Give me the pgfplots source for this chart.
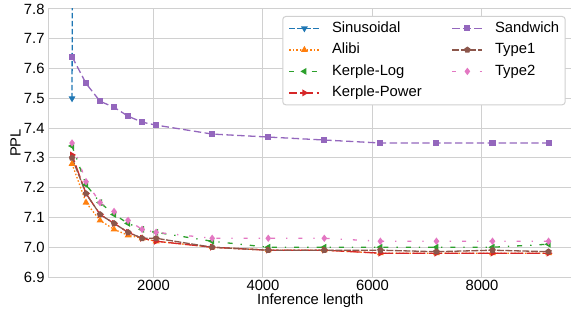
\documentclass[border=0pt]{standalone}
\usepackage{fontspec}
\setmainfont{Liberation Sans}
\usepackage{pgfplots}
\pgfplotsset{compat=1.18}
\usetikzlibrary{plotmarks}
\definecolor{cSin}{HTML}{1F77B4}
\definecolor{cAli}{HTML}{FF7F0E}
\definecolor{cLog}{HTML}{2CA02C}
\definecolor{cPow}{HTML}{D62728}
\definecolor{cSan}{HTML}{9467BD}
\definecolor{cT1}{HTML}{8C564B}
\definecolor{cT2}{HTML}{E377C2}
\definecolor{gridgray}{HTML}{D0D0D0}
\begin{document}
\fontsize{14.8}{17.8}\selectfont
\begin{tikzpicture}
\begin{axis}[
  at={(0,0)}, anchor=south west,
  scale only axis, width=524.2pt, height=268pt,
  xmin=76.8, xmax=9651.2, ymin=6.9, ymax=7.8,
  xtick={2000,4000,6000,8000},
  ytick={6.9,7.0,7.1,7.2,7.3,7.4,7.5,7.6,7.7,7.8},
  /pgf/number format/assume math mode=true,
  xticklabel style={/pgf/number format/1000 sep={}, inner sep=0pt, yshift=-3pt},
  yticklabel style={/pgf/number format/.cd, fixed, fixed zerofill, precision=1, /tikz/.cd, inner sep=0pt, xshift=-3.5pt},
  tick label style={font=\fontsize{14.8}{17.8}\selectfont},
  label style={font=\fontsize{14.8}{17.8}\selectfont},
  grid=major, major grid style={color=gridgray, line width=1pt},
  axis line style={color=gridgray, line width=1pt},
  tick style={draw=none},
  xlabel={Inference length}, ylabel={PPL},
  xlabel style={inner sep=2pt, yshift=-1pt},
  ylabel style={inner sep=3pt},
  every axis plot/.append style={line width=1.3pt},
  legend cell align=left,
  legend image code/.code={\draw[mark repeat=2,mark phase=2,#1] plot coordinates {(0pt,0pt) (15pt,0pt) (30pt,0pt)};},
  legend style={at={(0.9872,0.9739)}, anchor=north east, draw=gridgray, line width=1pt, rounded corners=3pt, fill=white,
    font=\fontsize{14.8}{17.8}\selectfont, inner xsep=6pt, inner ysep=5pt,
    nodes={inner sep=0pt, text height=10.8pt, text depth=3pt}, row sep=7.7pt,
    /tikz/every odd column/.append style={column sep=12pt},
    /tikz/every even column/.append style={column sep=30pt}},
  legend columns=2,
]
% Sinusoidal
\addplot[cSin, dash pattern=on 5.5pt off 2.5pt, mark=triangle*, mark size=2.7pt, mark options={solid, rotate=180}, forget plot]
  coordinates {(512,7.50) (768,25)};
% Alibi
\addplot[cAli, dash pattern=on 1.5pt off 2pt, mark=triangle*, mark size=2.7pt, mark options={solid}, forget plot]
  coordinates {(512,7.28) (768,7.15) (1024,7.09) (1280,7.06) (1536,7.04) (1792,7.03) (2048,7.02) (3072,7.00) (4096,6.99) (5120,6.99) (6144,6.98) (7168,6.98) (8192,6.98) (9216,6.98)};
% Kerple-Log
\addplot[cLog, dash pattern=on 5pt off 8pt on 1.3pt off 8pt, mark=triangle*, mark size=2.7pt, mark options={solid, rotate=90}, forget plot]
  coordinates {(512,7.34) (768,7.21) (1024,7.15) (1280,7.11) (1536,7.08) (1792,7.06) (2048,7.05) (3072,7.02) (4096,7.00) (5120,7.00) (6144,7.00) (7168,7.00) (8192,7.00) (9216,7.01)};
% Kerple-Power
\addplot[cPow, dash pattern=on 13pt off 3.3pt, dash phase=5.3pt, mark=triangle*, mark size=2.7pt, mark options={solid, rotate=-90}, forget plot]
  coordinates {(512,7.31) (768,7.18) (1024,7.11) (1280,7.08) (1536,7.05) (1792,7.03) (2048,7.02) (3072,7.00) (4096,6.99) (5120,6.99) (6144,6.98) (7168,6.98) (8192,6.98) (9216,6.98)};
% Sandwich
\addplot[cSan, dash pattern=on 7.4pt off 3.5pt, mark=square*, mark size=2.4pt, mark options={solid}, forget plot]
  coordinates {(512,7.64) (768,7.55) (1024,7.49) (1280,7.47) (1536,7.44) (1792,7.42) (2048,7.41) (3072,7.38) (4096,7.37) (5120,7.36) (6144,7.35) (7168,7.35) (8192,7.35) (9216,7.35)};
% Type1
\addplot[cT1, dash pattern=on 7pt off 1.5pt, mark=pentagon*, mark size=2.6pt, mark options={solid}, forget plot]
  coordinates {(512,7.30) (768,7.18) (1024,7.11) (1280,7.08) (1536,7.05) (1792,7.03) (2048,7.03) (3072,7.00) (4096,6.99) (5120,6.99) (6144,6.99) (7168,6.985) (8192,6.99) (9216,6.985)};
% Type2
\addplot[cT2, dash pattern=on 4pt off 11pt on 1.3pt off 11pt, mark=diamond*, mark size=2.7pt, mark options={solid}, forget plot]
  coordinates {(512,7.35) (768,7.22) (1024,7.15) (1280,7.12) (1536,7.09) (1792,7.06) (2048,7.05) (3072,7.03) (4096,7.03) (5120,7.03) (6144,7.02) (7168,7.02) (8192,7.02) (9216,7.02)};
% legend (row-wise order to reproduce column-wise layout)
\addlegendimage{cSin, line width=1.3pt, dash pattern=on 5.5pt off 2.5pt, mark=triangle*, mark size=2.7pt, mark options={solid, rotate=180}}
\addlegendentry{Sinusoidal}
\addlegendimage{cSan, line width=1.3pt, dash pattern=on 7.4pt off 3.5pt, mark=square*, mark size=2.4pt, mark options={solid}}
\addlegendentry{Sandwich}
\addlegendimage{cAli, line width=1.3pt, dash pattern=on 1.5pt off 2pt, mark=triangle*, mark size=2.7pt, mark options={solid}}
\addlegendentry{Alibi}
\addlegendimage{cT1, line width=1.3pt, dash pattern=on 7pt off 1.5pt, mark=pentagon*, mark size=2.6pt, mark options={solid}}
\addlegendentry{Type1}
\addlegendimage{cLog, line width=1.3pt, dash pattern=on 5pt off 8pt on 1.3pt off 8pt, mark=triangle*, mark size=2.7pt, mark options={solid, rotate=90}}
\addlegendentry{Kerple-Log}
\addlegendimage{cT2, line width=1.3pt, dash pattern=on 4pt off 11pt on 1.3pt off 11pt, mark=diamond*, mark size=2.7pt, mark options={solid}}
\addlegendentry{Type2}
\addlegendimage{cPow, line width=1.3pt, dash pattern=on 13pt off 3.3pt, dash phase=5.3pt, mark=triangle*, mark size=2.7pt, mark options={solid, rotate=-90}}
\addlegendentry{Kerple-Power}
\end{axis}
\pgfresetboundingbox
\useasboundingbox (-48.2pt,-37pt) rectangle (522.8pt,277pt);
\end{tikzpicture}
\end{document}
